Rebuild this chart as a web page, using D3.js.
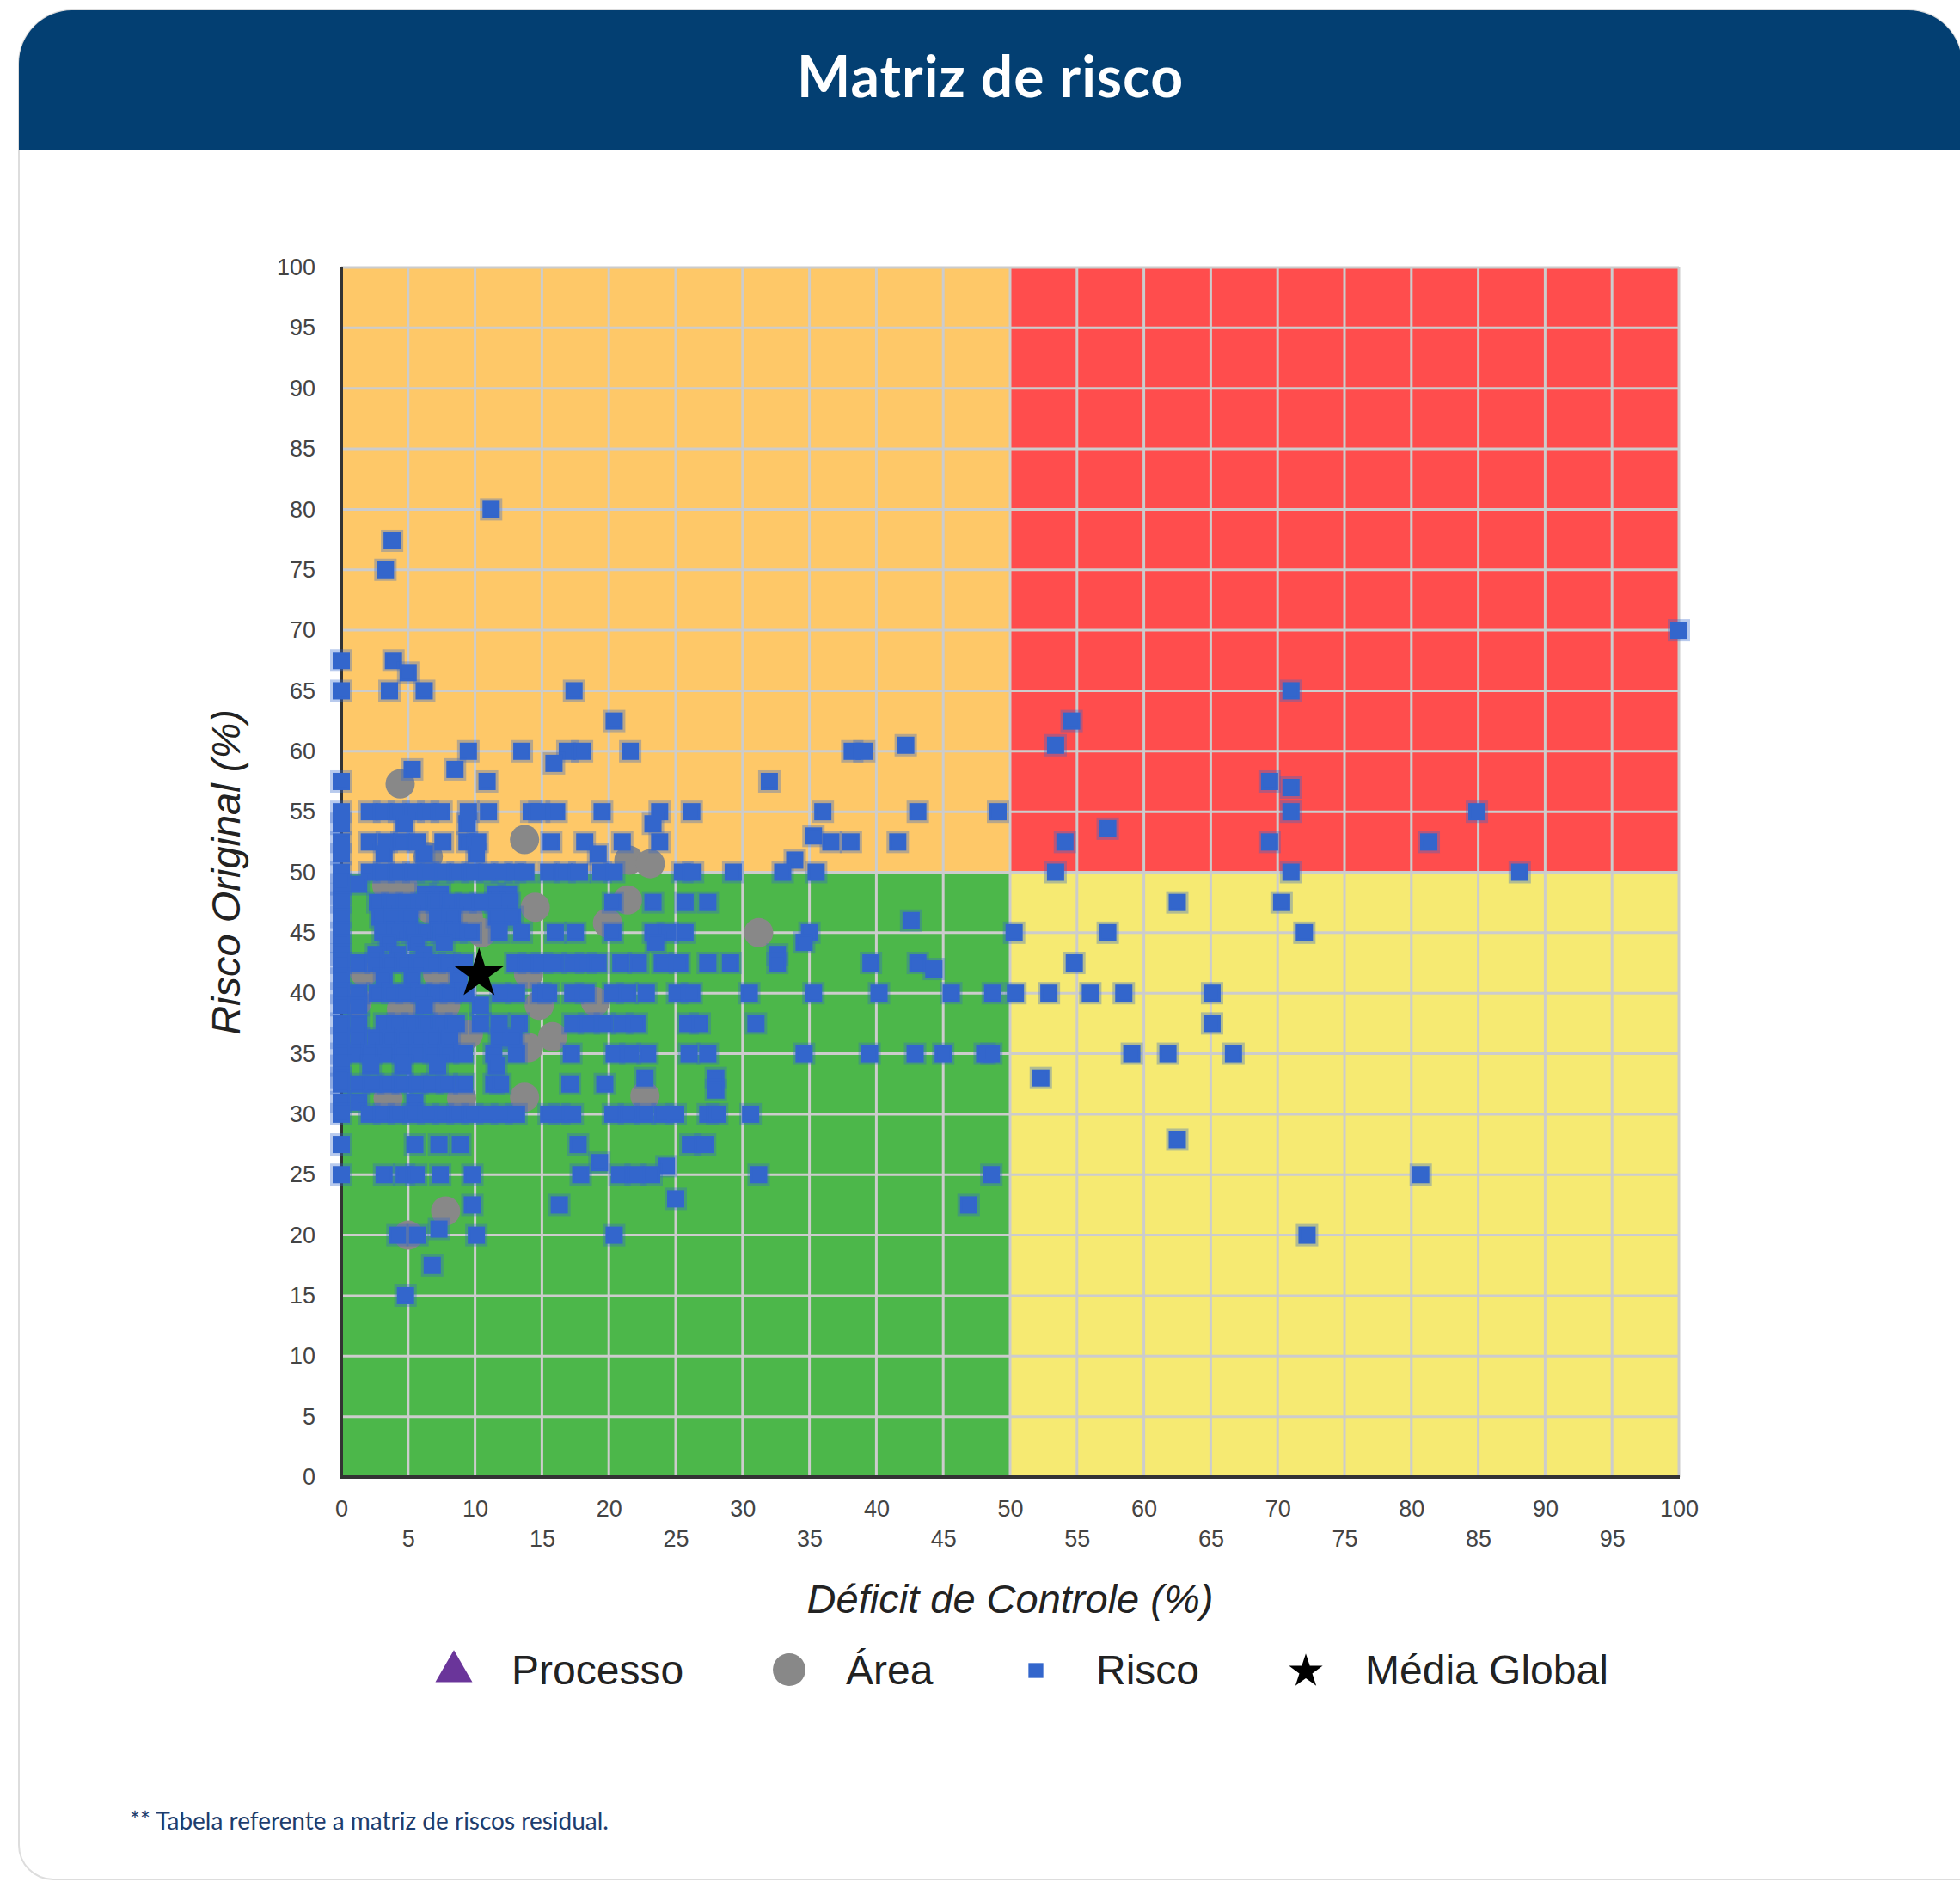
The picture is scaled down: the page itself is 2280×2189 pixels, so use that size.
<!DOCTYPE html>
<meta charset="utf-8">
<title>Matriz de risco</title>
<script src="https://cdn.jsdelivr.net/npm/d3@7"></script>
<style>
body {
	margin: 0;
	background: #fff;
}
</style>
<body>
<script>
// Texts
const titleText = 'Matriz de risco';
const xTitle = 'Déficit de Controle (%)';
const yTitle = 'Risco Original (%)';
const footnote = '** Tabela referente a matriz de riscos residual.';
const legendLabels = ['Processo', 'Área', 'Risco', 'Média Global'];

// Tick labels
const yTicks = [0, 5, 10, 15, 20, 25, 30, 35, 40, 45, 50, 55, 60, 65, 70, 75, 80, 85, 90, 95, 100];
const xTicksTop = [0, 10, 20, 30, 40, 50, 60, 70, 80, 90, 100];
const xTicksBottom = [5, 15, 25, 35, 45, 55, 65, 75, 85, 95];

// Risk zones: [x0, x1, y0, y1]
const zones = [
	[0, 50, 50, 100],
	[50, 100, 50, 100],
	[0, 50, 0, 50],
	[50, 100, 0, 50],
];
const zoneColors = ['#fec868', '#ff4d4d', '#4cb74a', '#f6ea72'];

// Series: Processo (none plotted), Área, Média Global
const processoPoints = [];
const areaPoints = [
	[4.4, 57.3], [13.7, 52.7], [6.5, 51.3], [21.5, 51], [23.1, 50.7], [3.4, 48.9], [4.6, 48.9],
	[6.6, 47], [14.5, 47.1], [21.4, 47.7], [9.5, 46.3], [19.9, 45.8], [10.5, 45], [31.2, 45],
	[1.7, 41.8], [7.2, 41.6], [14, 41.6], [19, 39.3], [1.2, 39.3], [4.5, 38.7], [7.8, 39],
	[14.8, 39], [15.8, 36.4], [7, 36.6], [9.5, 36.6], [14, 35.5], [3.5, 31.3], [9, 31.3],
	[13.7, 31.4], [22.7, 31.5], [7.8, 22], [5, 20],
];
const mediaGlobal = [[10.3, 41.8]];

// Risco: rows of [Risco Original, [Déficit de Controle, ...]]
const riscoRows = [
	[80, [11.2]],
	[77.4, [3.8]],
	[75, [3.3]],
	[70, [100]],
	[67.5, [0, 3.9]],
	[66.5, [5]],
	[65, [0, 3.6, 6.2, 17.4, 71]],
	[62.5, [20.4, 54.6]],
	[60.5, [42.2, 53.4]],
	[60, [9.5, 13.5, 16.9, 18, 21.6, 38.2, 39.1]],
	[59, [15.9]],
	[58.5, [5.3, 8.5]],
	[57.5, [0, 10.9, 32, 69.4]],
	[57, [71]],
	[55, [0, 2.1, 3.2, 4.3, 5.4, 6.5, 7.5, 9.5, 11, 14.2, 14.8, 16.1, 19.5, 23.8, 26.2, 36, 43.1, 49.1, 71, 84.9]],
	[54, [0, 4.7, 9.4, 23.3]],
	[53.6, [57.3]],
	[53, [35.3]],
	[52.5, [0, 2.1, 3.4, 4.5, 5.7, 7.6, 9.4, 10.2, 15.7, 18.2, 21, 23.8, 36.6, 38.1, 41.6, 54.1, 69.4, 81.3]],
	[51.5, [0, 3.2, 6.2, 10.1, 19.2]],
	[51, [33.9]],
	[50, [0, 2.1, 3.2, 4.3, 5.4, 6.5, 7.6, 8.7, 9.8, 10.9, 12, 13, 13.8, 15.5, 16.7, 17.8, 19.4, 20.4, 25.5, 26.3, 29.3, 33, 35.5, 53.4, 71, 88.1]],
	[49, [0, 1.3]],
	[48.2, [0, 6.3, 7.4, 11.5, 12.5]],
	[47.5, [0, 2.7, 3.8, 4.9, 6, 7.1, 8.2, 9.3, 10.4, 11.5, 12.6, 20.3, 23.3, 25.7, 27.4, 62.5, 70.3]],
	[46.3, [0, 2.9, 4, 5.1, 7.2, 8.3, 11.6, 12.8]],
	[46, [42.6]],
	[45, [0, 3.1, 4.2, 5.3, 6.4, 7.5, 8.6, 9.7, 11.8, 13.5, 16, 17.5, 20.3, 23.3, 24.4, 25.7, 35, 50.3, 57.3, 72]],
	[44.2, [0, 3.5, 5.6, 7.7, 23.5, 34.6]],
	[43.2, [0, 2.6, 4.2, 6.2, 32.6]],
	[42.5, [0, 1.3, 2.6, 3.7, 4.8, 5.9, 7, 8.1, 9.2, 13, 14, 15, 16, 17.3, 18.3, 19.2, 20.9, 22.2, 24, 25.3, 27.4, 29.1, 32.6, 39.6, 43.1, 54.8]],
	[42, [44.3]],
	[41.2, [0, 3.2, 5.3, 8.8]],
	[40, [0, 1.3, 2.7, 3.8, 4.9, 6, 7.1, 8.2, 9.3, 11.9, 13.1, 14.9, 15.5, 17.3, 18.3, 20.3, 21.4, 22.8, 25.1, 26.2, 30.5, 35.3, 40.2, 45.6, 48.7, 50.4, 52.9, 56, 58.5, 65.1]],
	[39, [0, 1.3, 6.2, 10.4]],
	[37.5, [0, 1.3, 3.2, 4.2, 5.3, 6.4, 7.5, 8.6, 10.4, 11.8, 13.3, 17.3, 18.5, 19.7, 21, 22.1, 25.9, 26.8, 31, 65.1]],
	[36.3, [0, 1.3, 2.6, 3.7, 4.8, 5.9, 7, 8.1, 11.8, 12.9]],
	[35, [0, 1.1, 2.3, 3.4, 4.6, 5.7, 6.9, 8, 9.2, 11.4, 13.1, 17.2, 20.4, 21.6, 22.9, 26, 27.4, 34.6, 39.5, 42.9, 45, 48.1, 48.6, 59.1, 61.8, 66.7]],
	[34, [0, 2.2, 4.6, 7.2, 11.6]],
	[33, [0, 22.7, 28, 52.3]],
	[32.5, [0, 1.3, 2.4, 3.5, 4.6, 5.7, 6.8, 7.9, 9.2, 11.4, 11.9, 17.1, 19.7]],
	[32, [28]],
	[31, [0, 1.3, 5.5]],
	[30, [0, 2.1, 3.2, 4.3, 5.4, 6.5, 7.6, 8.7, 9.8, 10.9, 12, 13.1, 15.5, 16.3, 17.3, 20.3, 21.5, 22.7, 24, 25, 27.4, 28.1, 30.6]],
	[27.9, [62.5]],
	[27.5, [0, 5.5, 7.3, 8.9, 17.7, 26.1, 27.2]],
	[26, [19.3]],
	[25.7, [24.3]],
	[25, [0, 3.2, 4.7, 5.6, 7.4, 9.8, 17.9, 20.8, 22, 23.2, 31.2, 48.6, 80.7]],
	[23, [25]],
	[22.5, [9.8, 16.3, 46.9]],
	[20.5, [7.3]],
	[20, [4.2, 5.7, 10.1, 20.4, 72.2]],
	[17.5, [6.8]],
	[15, [4.8]],
];
const riscoPoints = riscoRows.flatMap(([yv, xs]) => xs.map(xv => [xv, yv]));

// Layout
const width = 2280;
const height = 2189;
const plot = { left: 397, right: 1953, top: 311, bottom: 1718 };
const tickFont = 27;
const titleFont = 47;
const legendFont = 48;
const axisColor = '#333';
const gridColor = '#cccccc';
const labelColor = '#444';
const headerColor = '#033f72';

const x = d3.scaleLinear().domain([0, 100]).range([plot.left, plot.right]);
const y = d3.scaleLinear().domain([0, 100]).range([plot.bottom, plot.top]);

const svg = d3.select('body')
	.append('svg')
		.attr('width', width)
		.attr('height', height)
		.attr('font-family', 'Liberation Sans, Arial, sans-serif');

// Card with header
const card = { left: 22, right: 2282, top: 12, bottom: 2186, rTop: 62, rBottom: 40 };
const headerBottom = 175;
svg.append('path')
	.attr('d', `M${card.left},${card.top + card.rTop}
		A${card.rTop},${card.rTop} 0 0 1 ${card.left + card.rTop},${card.top}
		H${card.right - card.rTop}
		A${card.rTop},${card.rTop} 0 0 1 ${card.right},${card.top + card.rTop}
		V${card.bottom} H${card.left + card.rBottom}
		A${card.rBottom},${card.rBottom} 0 0 1 ${card.left},${card.bottom - card.rBottom} Z`)
	.attr('fill', '#fff')
	.attr('stroke', '#dddddd')
	.attr('stroke-width', 2);
svg.append('path')
	.attr('d', `M${card.left},${card.top + card.rTop}
		A${card.rTop},${card.rTop} 0 0 1 ${card.left + card.rTop},${card.top}
		H${card.right - card.rTop}
		A${card.rTop},${card.rTop} 0 0 1 ${card.right},${card.top + card.rTop}
		V${headerBottom} H${card.left} Z`)
	.attr('fill', headerColor);
svg.append('text')
	.attr('x', (card.left + card.right) / 2)
	.attr('y', 113)
	.attr('text-anchor', 'middle')
	.attr('font-family', 'Lato, Open Sans, sans-serif')
	.attr('font-weight', 700)
	.attr('font-size', 66)
	.attr('letter-spacing', 1)
	.attr('fill', '#fff')
	.text(titleText);

// Zones
svg.append('g')
	.selectAll('rect')
	.data(zones)
	.enter()
	.append('rect')
		.attr('x', d => x(d[0]))
		.attr('y', d => y(d[3]))
		.attr('width', d => x(d[1]) - x(d[0]))
		.attr('height', d => y(d[2]) - y(d[3]))
		.attr('fill', (d, i) => zoneColors[i]);

// Grid
const grid = svg.append('g')
	.attr('stroke', gridColor)
	.attr('stroke-width', 3);
grid.selectAll('.v')
	.data(yTicks)
	.enter()
	.append('line')
		.attr('x1', d => x(d))
		.attr('x2', d => x(d))
		.attr('y1', plot.top)
		.attr('y2', plot.bottom);
grid.selectAll('.h')
	.data(yTicks)
	.enter()
	.append('line')
		.attr('x1', plot.left)
		.attr('x2', plot.right)
		.attr('y1', d => y(d))
		.attr('y2', d => y(d));

// Axis lines
svg.append('line')
	.attr('x1', plot.left).attr('x2', plot.left)
	.attr('y1', plot.top - 1).attr('y2', plot.bottom + 2)
	.attr('stroke', axisColor).attr('stroke-width', 4);
svg.append('line')
	.attr('x1', plot.left - 2).attr('x2', plot.right + 1)
	.attr('y1', plot.bottom).attr('y2', plot.bottom)
	.attr('stroke', axisColor).attr('stroke-width', 4);

// Tick labels
function styleAxis(g) {
	g.select('.domain').remove();
	g.selectAll('text')
		.attr('font-size', tickFont)
		.attr('font-family', 'Liberation Sans, Arial, sans-serif')
		.attr('fill', labelColor);
}
svg.append('g')
	.attr('transform', `translate(${plot.left},0)`)
	.call(d3.axisLeft(y).tickValues(yTicks).tickSize(0).tickPadding(30))
	.call(styleAxis);
svg.append('g')
	.attr('transform', `translate(0,${plot.bottom})`)
	.call(d3.axisBottom(x).tickValues(xTicksTop).tickSize(0).tickPadding(27))
	.call(styleAxis);
svg.append('g')
	.attr('transform', `translate(0,${plot.bottom})`)
	.call(d3.axisBottom(x).tickValues(xTicksBottom).tickSize(0).tickPadding(62))
	.call(styleAxis);

// Axis titles
svg.append('text')
	.attr('x', (plot.left + plot.right) / 2)
	.attr('y', 1876)
	.attr('text-anchor', 'middle')
	.attr('font-style', 'italic')
	.attr('font-size', titleFont)
	.attr('fill', '#222')
	.text(xTitle);
svg.append('text')
	.attr('transform', `translate(279,${(plot.top + plot.bottom) / 2}) rotate(-90)`)
	.attr('text-anchor', 'middle')
	.attr('font-style', 'italic')
	.attr('font-size', titleFont)
	.attr('fill', '#222')
	.text(yTitle);

// Points
const pointColors = ['#6a359a', '#888888', '#3366cc', '#000000'];
const squareSize = 20;

svg.append('g')
	.selectAll('path')
	.data(processoPoints)
	.enter()
	.append('path')
		.attr('d', d3.symbol(d3.symbolTriangle, 500))
		.attr('transform', d => `translate(${x(d[0])},${y(d[1])})`)
		.attr('fill', pointColors[0]);

svg.append('g')
	.selectAll('circle')
	.data(areaPoints)
	.enter()
	.append('circle')
		.attr('cx', d => x(d[0]))
		.attr('cy', d => y(d[1]))
		.attr('r', 17)
		.attr('fill', pointColors[1]);

svg.append('g')
	.selectAll('rect')
	.data(riscoPoints)
	.enter()
	.append('rect')
		.attr('x', d => x(d[0]) - squareSize / 2)
		.attr('y', d => y(d[1]) - squareSize / 2)
		.attr('width', squareSize)
		.attr('height', squareSize)
		.attr('fill', pointColors[2])
		.attr('stroke', pointColors[2])
		.attr('stroke-opacity', 0.35)
		.attr('stroke-width', 6);

svg.append('g')
	.selectAll('path')
	.data(mediaGlobal)
	.enter()
	.append('path')
		.attr('d', d3.symbol(d3.symbolStar, 1050))
		.attr('transform', d => `translate(${x(d[0])},${y(d[1]) + 3})`)
		.attr('fill', pointColors[3]);

// Legend
const legendSymbolX = [528, 918, 1205, 1519];
const legendTextX = [595, 984, 1275, 1588];
const legendSymbols = [
	d3.symbol(d3.symbolTriangle, 800),
	d3.symbol(d3.symbolCircle, 1130),
	d3.symbol(d3.symbolSquare, 300),
	d3.symbol(d3.symbolStar, 480),
];
const legendSymbolY = [1944, 1942, 1943, 1944];
const legend = svg.append('g')
	.selectAll('g')
	.data(legendLabels)
	.enter()
	.append('g');
legend.append('path')
	.attr('d', (d, i) => legendSymbols[i]())
	.attr('transform', (d, i) => `translate(${legendSymbolX[i]},${legendSymbolY[i]})`)
	.attr('fill', (d, i) => pointColors[i]);
legend.append('text')
	.attr('x', (d, i) => legendTextX[i])
	.attr('y', 1959)
	.attr('font-size', legendFont)
	.attr('fill', '#222')
	.text(d => d);

// Footnote
svg.append('text')
	.attr('x', 151)
	.attr('y', 2128)
	.attr('font-family', 'Lato, Open Sans, sans-serif')
	.attr('font-size', 28)
	.attr('fill', '#1e3d6d')
	.text(footnote);
</script>
</body>
